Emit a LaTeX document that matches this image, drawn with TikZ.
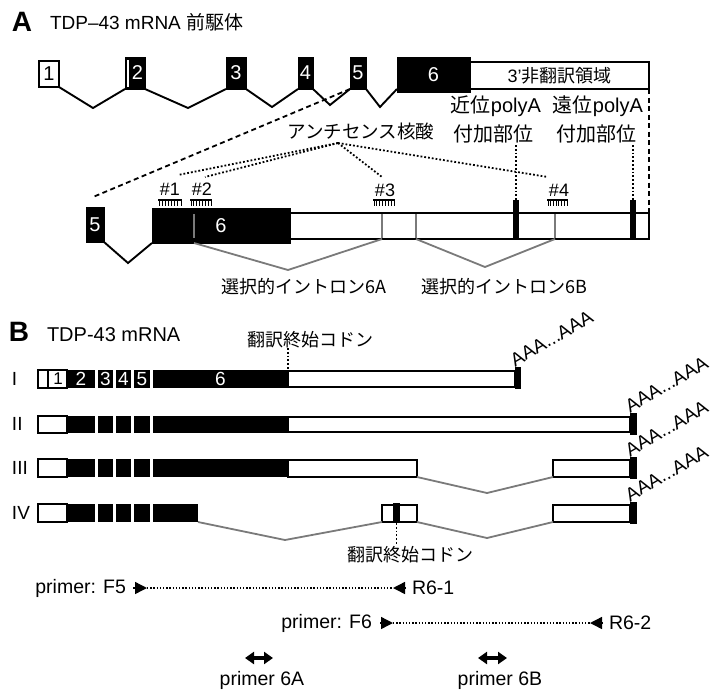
\documentclass[tikz,border=0pt]{standalone}
\usepackage{fontspec}
\setmainfont{Liberation Sans}
\newfontfamily\jp{Noto Sans CJK JP}
\usetikzlibrary{arrows.meta}
\newcommand\fsz[1]{\fontsize{#1}{#1}\selectfont}
\definecolor{gline}{HTML}{7A7A7A}
% box node: name, style, x1, y1, x2, y2, text
\newcommand\bx[7]{\node[#2, minimum width={#5-#3}, minimum height={#6-#4}, anchor=center] (#1) at ({(#3+#5)/2},{(#4+#6)/2}) {#7};}
\newcommand\comb[3]{%
  \coordinate (#1) at ({(#2+#3)/2},200);
  \draw[line width=1.5pt] (#2,200) -- (#3,200);
  \foreach \k in {0,...,7} {\draw[line width=0.9pt] ({#2+1+\k*(#3-#2-2)/7},200) -- ++(0,6);}
}
\newcommand\exset[4]{%
  \bx{#1e1}{wexb}{38}{#2}{67}{#3}{}
  \bx{#1e2}{bexb}{67}{#2}{95}{#3}{}
  \bx{#1e3}{bexb}{98}{#2}{113}{#3}{}
  \bx{#1e4}{bexb}{116}{#2}{131}{#3}{}
  \bx{#1e5}{bexb}{134}{#2}{150}{#3}{}
  \bx{#1e6}{bexb}{153}{#2}{#4}{#3}{}
}
\begin{document}
\begin{tikzpicture}[x=1pt,y=-1pt,
  every node/.style={inner sep=0pt, outer sep=0pt},
  bex/.style={fill=black, draw=black, line width=0.6pt, text=white, font=\fsz{20}},
  wex/.style={fill=white, draw=black, line width=1.6pt, font=\fsz{20}},
  wexd/.style={fill=white, draw=black, line width=2.2pt},
  bexb/.style={fill=black, text=white, font=\fsz{19}},
  wexb/.style={fill=white, draw=black, line width=1.6pt, font=\fsz{19}},
  wutr/.style={fill=white, draw=black, line width=1.7pt},
  bar/.style={fill=black},
  intr/.style={draw=black, line width=1.9pt},
  gintr/.style={draw=gline, line width=1.8pt},
  zoomdash/.style={draw=black, line width=1.8pt, dash pattern=on 5pt off 3.5pt},
  dotl/.style={draw=black, line width=1.8pt, dash pattern=on 1.8pt off 2pt},
  pdot/.style={draw=black, line width=1.4pt, dash pattern=on 1.4pt off 1.8pt},
  ptip/.style={draw=black, line width=1.4pt, -{Triangle[length=12pt,width=12pt]}},
  dbl/.style={draw=black, line width=3.5pt, {Triangle[length=9pt,width=12pt]}-{Triangle[length=9pt,width=12pt]}},
  jplbl/.style={font=\jp\fsz{18}},
  lat/.style={font=\fsz{19.5}},
  aaa/.style={rotate=30, anchor=south west, font=\fsz{19}},
  roman/.style={anchor=west, font=\fsz{19}}
]
\useasboundingbox (0,0) rectangle (718,689);

% ---------------- Panel A ----------------
\node[font=\bfseries\fsz{28}] (lblA) at (22,22) {A};
\node[anchor=west, font=\fsz{19}] (titA) at (50,22) {TDP–43 mRNA {\jp 前駆体}};

\bx{a1}{wex}{39}{61}{59}{87}{1}
\bx{a2}{bex}{125}{57}{145}{89}{\hspace{5pt}2}
\bx{a3}{bex}{226}{57}{246}{89}{3}
\bx{a4}{bex}{298}{57}{313}{89}{4}
\bx{a5}{bex}{350}{57}{366}{89}{5}
\bx{autr}{wex}{470}{62}{649}{89}{\fsz{18}3'{\jp 非翻訳領域}}
\bx{a6}{bex}{397}{57}{470}{92}{6}
\draw[white, line width=1.2pt] (128,60) -- (128,87);

\coordinate (v1) at (93,108);
\coordinate (v2) at (188,108);
\coordinate (v3) at (272,107);
\coordinate (v4) at (330,105);
\coordinate (v5) at (380,107);
\coordinate (a6in) at (397,89);
\draw[intr] (a1.south east) -- (v1) -- (a2.south west);
\draw[intr] (a2.south east) -- (v2) -- (a3.south west);
\draw[intr] (a3.south east) -- (v3) -- (a4.south west);
\draw[intr] (a4.south east) -- (v4) -- (a5.south west);
\draw[intr] (a5.south east) -- (v5) -- (a6in);

% zoom lines
\coordinate (z1) at (93,197);
\draw[zoomdash] (a5.south west) -- (z1);

% detail gene
\bx{dutr}{wexd}{290}{213}{649}{239}{}
\bx{d5}{bex}{86}{207}{104}{242}{5}
\bx{d6}{bex}{152}{208}{290}{243}{6}
\draw[zoomdash] (autr.south east) -- (dutr.north east);
\draw[draw=gline, line width=1.5pt] (194,214) -- (194,238);
\draw[draw=gline, line width=1.5pt] (382,214) -- (382,238);
\draw[draw=gline, line width=1.5pt] (416,214) -- (416,238);
\draw[draw=gline, line width=1.5pt] (555,214) -- (555,238);
\bx{pa1}{bar}{513}{200}{519}{240}{}
\bx{pa2}{bar}{630}{200}{636}{240}{}

\coordinate (dv) at (128,263);
\draw[intr] (d5.south east) -- (dv) -- (d6.south west);

\coordinate (i6a1) at (194,243);
\coordinate (i6a2) at (288,270);
\coordinate (i6a3) at (382,239);
\coordinate (i6b1) at (416,239);
\coordinate (i6b2) at (485,267);
\coordinate (i6b3) at (555,239);
\draw[gintr] (i6a1) -- (i6a2) -- (i6a3);
\draw[gintr] (i6b1) -- (i6b2) -- (i6b3);
\node[jplbl] (l6a) at (304,287) {選択的イントロン6A};
\node[jplbl] (l6b) at (504,287) {選択的イントロン6B};

% antisense oligos
\comb{c1}{158}{182}
\comb{c2}{190}{212}
\comb{c3}{373}{395}
\comb{c4}{547}{568}
\node[font=\fsz{18}] (h1) at (170,189) {\#1};
\node[font=\fsz{18}] (h2) at (202,189) {\#2};
\node[font=\fsz{18}] (h3) at (385,190) {\#3};
\node[font=\fsz{18}] (h4) at (559,190) {\#4};
\node[font=\jp\fsz{18.5}] (aso) at (361,131) {アンチセンス核酸};
\coordinate (ap) at (338,143);
\coordinate (t1) at (178,175);
\coordinate (t2) at (205,177);
\coordinate (t3) at (382,177);
\coordinate (t4) at (548,177);
\draw[dotl] (ap) -- (t1);
\draw[dotl] (ap) -- (t2);
\draw[dotl] (ap) -- (t3);
\draw[dotl] (ap) -- (t4);

% polyA sites
\node[font=\fsz{20}] (pa1l1) at (496,106) {{\jp 近位}polyA};
\node[font=\jp\fsz{20}] (pa1l2) at (493,134) {付加部位};
\node[font=\fsz{20}] (pa2l1) at (598,106) {{\jp 遠位}polyA};
\node[font=\jp\fsz{20}] (pa2l2) at (596,134) {付加部位};
\coordinate (pd1) at (516,145);
\coordinate (pd2) at (633,145);
\draw[dotl] (pd1) -- (pa1.north);
\draw[dotl] (pd2) -- (pa2.north);

% ---------------- Panel B ----------------
\node[font=\bfseries\fsz{28}] (lblB) at (19,332) {B};
\node[anchor=west, font=\fsz{20}] (titB) at (47,335) {TDP-43 mRNA};
\node[jplbl] (stop1) at (310,340) {翻訳終始コドン};
\coordinate (sc1) at (288,348);
\coordinate (sc1b) at (288,370);
\draw[dotl] (sc1) -- (sc1b);

% Row I
\node[roman] (rI) at (12,379) {I};
\bx{r1u}{wutr}{288}{371}{515}{387}{}
\exset{r1}{370}{388}{288}
\draw[line width=1.2pt] (48,371) -- (48,387);
\node[font=\fsz{17}] (n1) at (58,379) {1};
\node[font=\fsz{19}, text=white] (n2) at (r1e2) {2};
\node[font=\fsz{19}, text=white] (n3) at (r1e3) {3};
\node[font=\fsz{19}, text=white] (n4) at (r1e4) {4};
\node[font=\fsz{19}, text=white] (n5) at (r1e5) {5};
\node[font=\fsz{19}, text=white] (n6) at (r1e6) {6};
\bx{r1b}{bar}{515}{367}{521}{389}{}
\node[aaa] (aaa1) at (r1b.north west) {AAA...AAA};

% Row II
\node[roman] (rII) at (12,424) {II};
\bx{r2u}{wutr}{288}{417}{630}{432}{}
\exset{r2}{416}{433}{288}
\bx{r2b}{bar}{630}{413}{637}{435}{}
\node[aaa] (aaa2) at (r2b.north west) {AAA...AAA};

% Row III
\node[roman] (rIII) at (12,468) {III};
\bx{r3u1}{wutr}{288}{460}{417}{477}{}
\exset{r3}{459}{477}{288}
\bx{r3u2}{wutr}{553}{460}{630}{477}{}
\bx{r3b}{bar}{630}{457}{637}{479}{}
\coordinate (r3v) at (487,493);
\draw[gintr] (r3u1.south east) -- (r3v) -- (r3u2.south west);
\node[aaa] (aaa3) at (r3b.north west) {AAA...AAA};

% Row IV
\node[roman] (rIV) at (12,513) {IV};
\exset{r4}{504}{522}{198}
\bx{r4s}{wutr}{382}{505}{417}{522}{}
\bx{r4sb}{bar}{393}{503}{400}{523}{}
\bx{r4u2}{wutr}{553}{505}{630}{522}{}
\bx{r4b}{bar}{630}{502}{637}{524}{}
\coordinate (r4v1) at (285,540);
\coordinate (r4v2) at (487,538);
\draw[gintr] (r4e6.south east) -- (r4v1) -- (r4s.south west);
\draw[gintr] (r4s.south east) -- (r4v2) -- (r4u2.south west);
\node[aaa] (aaa4) at (r4b.north west) {AAA...AAA};
\coordinate (sc2) at (396.5,544);
\draw[dotl] (r4sb.south) -- (sc2);
\node[jplbl] (stop2) at (410,555) {翻訳終始コドン};

% ---------------- Primers ----------------
\node[lat, anchor=east] (pF5) at (126,588) {primer: F5};
\coordinate (f5a) at (133,588);
\coordinate (f5b) at (147,588);
\coordinate (r61b) at (393,588);
\coordinate (r61a) at (406,588);
\draw[ptip] (f5a) -- (f5b);
\draw[pdot] (f5b) -- (r61b);
\draw[ptip] (r61a) -- (r61b);
\node[lat, anchor=west] (pR61) at (412,588) {R6-1};

\node[lat, anchor=east] (pF6) at (372,623) {primer: F6};
\coordinate (f6a) at (380,623);
\coordinate (f6b) at (393,623);
\coordinate (r62b) at (590,623);
\coordinate (r62a) at (603,623);
\draw[ptip] (f6a) -- (f6b);
\draw[pdot] (f6b) -- (r62b);
\draw[ptip] (r62a) -- (r62b);
\node[lat, anchor=west] (pR62) at (609,623) {R6-2};

\coordinate (p6a1) at (245,658);
\coordinate (p6a2) at (273,658);
\coordinate (p6b1) at (478,658);
\coordinate (p6b2) at (507,658);
\draw[dbl] (p6a1) -- (p6a2);
\draw[dbl] (p6b1) -- (p6b2);
\node[lat] (l6A) at (262,680) {primer 6A};
\node[lat] (l6B) at (500,680) {primer 6B};
\end{tikzpicture}
\end{document}
